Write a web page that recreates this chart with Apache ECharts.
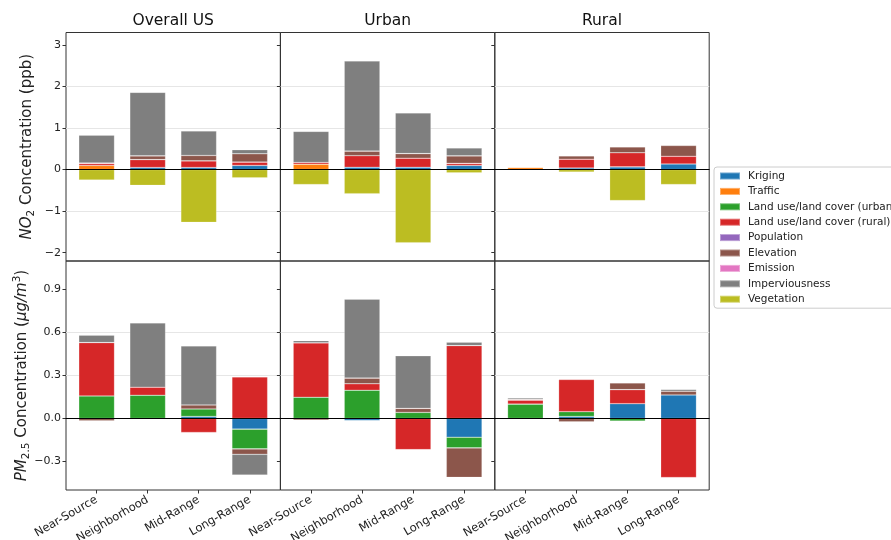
<!DOCTYPE html>
<html>
<head>
<meta charset="utf-8">
<title>Predictor contributions by distance range</title>
<script src="https://cdn.jsdelivr.net/npm/echarts@6/dist/echarts.min.js"></script>
<style>
  html, body { margin: 0; padding: 0; background: #fff; }
  #chart { width: 891px; height: 540px; }
</style>
</head>
<body>
<div id="chart"></div>
<script>
// Distance ranges on the x axis of every panel
const CATEGORIES = ['Near-Source', 'Neighborhood', 'Mid-Range', 'Long-Range'];
// Column titles
const REGIONS = ['Overall US', 'Urban', 'Rural'];
// Predictor groups (stack order, bottom to top)
const PREDICTORS = [
  'Kriging', 'Traffic', 'Land use/land cover (urban)', 'Land use/land cover (rural)',
  'Population', 'Elevation', 'Emission', 'Imperviousness', 'Vegetation'
];

// Y tick values for each row
const NO2_TICKS = [-2, -1, 0, 1, 2, 3];
const PM_TICKS = [-0.3, 0, 0.3, 0.6, 0.9];

// NO2 contributions (ppb); one row per predictor, one column per distance range
const no2OverallUS = [
  [0, 0.05, 0.05, 0.10],
  [0.10, 0, 0, 0],
  [0, 0, 0, 0],
  [0.05, 0.19, 0.16, 0.08],
  [0, 0, 0, 0],
  [0.01, 0.09, 0.13, 0.20],
  [0, 0, 0, 0],
  [0.67, 1.53, 0.59, 0.10],
  [-0.25, -0.38, -1.27, -0.20]
];
const no2Urban = [
  [0, 0.055, 0.055, 0.10],
  [0.13, 0, 0, 0],
  [0, 0, 0, 0],
  [0.04, 0.28, 0.22, 0.05],
  [0, 0, 0, 0],
  [0, 0.11, 0.11, 0.18],
  [0, 0, 0, 0],
  [0.75, 2.17, 0.98, 0.19],
  [-0.36, -0.58, -1.76, -0.08]
];
const no2Rural = [
  [0, 0.04, 0.065, 0.135],
  [0.05, 0, 0, 0],
  [0, 0, 0, 0],
  [0.01, 0.21, 0.34, 0.185],
  [0, 0, 0, 0],
  [0, 0.08, 0.14, 0.26],
  [0, 0, 0, 0],
  [0, 0, 0, 0],
  [0, -0.06, -0.745, -0.36]
];

// PM2.5 contributions (ug/m3)
const pmOverallUS = [
  [0, -0.005, 0.014, -0.075],
  [0, 0, 0, 0],
  [0.157, 0.162, 0.052, -0.138],
  [0.373, 0.056, -0.098, 0.29],
  [0, 0, 0, 0],
  [-0.016, 0, 0.028, -0.0375],
  [0, 0, 0, 0],
  [0.052, 0.45, 0.413, -0.145],
  [0, 0, 0, 0]
];
const pmUrban = [
  [0, -0.014, 0, -0.131],
  [0, 0, 0, 0],
  [0.148, 0.197, 0.042, -0.075],
  [0.38, 0.045, -0.218, 0.509],
  [0, 0, 0, 0],
  [-0.012, 0.04, 0.028, -0.206],
  [0, 0, 0, 0],
  [0.016, 0.551, 0.368, 0.023],
  [0, 0, 0, 0]
];
const pmRural = [
  [0, 0.014, 0.103, 0.164],
  [0, 0, 0, 0],
  [0.10, 0.033, -0.019, 0],
  [0.028, 0.225, 0.098, -0.413],
  [0, 0, 0, 0],
  [0.006, -0.023, 0.047, 0.026],
  [0, 0, 0, 0],
  [0.01, 0, 0, 0.012],
  [0, 0, 0, 0]
];

// ---- styling / layout ----
const COLORS = ['#1f77b4', '#ff7f0e', '#2ca02c', '#d62728', '#9467bd',
                '#8c564b', '#e377c2', '#7f7f7f', '#bcbd22'];
const FONT = 'DejaVu Sans';
const COL_LEFT = [66, 280.4, 494.8];
const COL_W = 214.4;
const ROW_TOP = [32.5, 261];
const ROW_H = [228.5, 229];
const ROW_RANGE = [[-2.2, 3.3], [-0.5, 1.1]];
const ROW_TICKS = [NO2_TICKS, PM_TICKS];
// panels span 4.2 category units: 0.1 unit of extra margin on each side of the bands
const UNIT = COL_W / 4.2;
const BAR_W = UNIT * 0.7;

const PANELS = [
  { row: 0, col: 0, values: no2OverallUS },
  { row: 0, col: 1, values: no2Urban },
  { row: 0, col: 2, values: no2Rural },
  { row: 1, col: 0, values: pmOverallUS },
  { row: 1, col: 1, values: pmUrban },
  { row: 1, col: 2, values: pmRural }
];
const N = PANELS.length;

function tickText(v, row) {
  const sign = v < 0 ? '\u2212' : '';
  const a = Math.abs(v);
  return sign + (row === 0 ? String(Math.round(a)) : a.toFixed(1));
}

const grid = [], xAxis = [], yAxis = [], series = [];

// frame grids (0..5): border, y ticks, gridlines, zero line
PANELS.forEach(p => {
  grid.push({
    left: COL_LEFT[p.col], top: ROW_TOP[p.row],
    width: COL_W, height: ROW_H[p.row],
    show: true, borderColor: '#333', borderWidth: 1,
    backgroundColor: 'transparent',
    containLabel: false, outerBoundsMode: 'none'
  });
});
// data grids (6..11): the category bands, inset by 0.1 unit
PANELS.forEach(p => {
  grid.push({
    left: COL_LEFT[p.col] + UNIT * 0.1, top: ROW_TOP[p.row],
    width: UNIT * 4, height: ROW_H[p.row], show: false,
    containLabel: false, outerBoundsMode: 'none'
  });
});

// x axes 0..5: hidden placeholder axes of the frame grids
PANELS.forEach((p, k) => {
  xAxis.push({
    type: 'value', gridIndex: k, min: 0, max: 1, show: false,
    axisLine: { show: false, onZero: false }
  });
});
// x axes 6..11: category axes of the data grids
PANELS.forEach((p, k) => {
  const bottom = p.row === 1;
  xAxis.push({
    type: 'category', gridIndex: N + k, data: CATEGORIES, boundaryGap: true,
    axisLine: { show: false, onZero: false },
    splitLine: { show: false },
    axisTick: {
      show: bottom, alignWithLabel: true, length: 3.5,
      lineStyle: { color: '#333', width: 1 }
    },
    axisLabel: {
      show: bottom, rotate: 30, margin: 9, interval: 0,
      fontSize: 11.5, fontFamily: FONT, color: '#222'
    }
  });
});
// x axes 12..17: zero reference line of each frame grid
PANELS.forEach((p, k) => {
  xAxis.push({
    type: 'value', gridIndex: k, min: 0, max: 1, position: 'top', z: 10,
    axisLine: { show: true, onZero: true, lineStyle: { color: '#000', width: 1.2 } },
    axisTick: { show: false }, axisLabel: { show: false }, splitLine: { show: false }
  });
});

// y axes 0..5: visible value axes of the frame grids
PANELS.forEach((p, k) => {
  const ticks = ROW_TICKS[p.row];
  yAxis.push({
    type: 'value', gridIndex: k,
    min: ROW_RANGE[p.row][0], max: ROW_RANGE[p.row][1],
    axisLine: { show: false, onZero: false },
    axisTick: {
      show: true, customValues: ticks, length: 3.5,
      lineStyle: { color: '#333', width: 1 }
    },
    axisLabel: {
      show: p.col === 0, customValues: ticks, margin: 5,
      fontSize: 11, fontFamily: FONT, color: '#222',
      formatter: v => tickText(v, p.row)
    },
    splitLine: {
      show: true, showMinLine: false, showMaxLine: false,
      lineStyle: { color: '#e6e6e6', width: 1.2 }
    }
  });
});
// y axes 6..11: same ranges, hidden, for the bars
PANELS.forEach((p, k) => {
  yAxis.push({
    type: 'value', gridIndex: N + k, show: false,
    min: ROW_RANGE[p.row][0], max: ROW_RANGE[p.row][1],
    axisLine: { show: false, onZero: false }, splitLine: { show: false }
  });
});

PANELS.forEach((p, k) => {
  PREDICTORS.forEach((name, i) => {
    series.push({
      type: 'bar', name: name,
      xAxisIndex: N + k, yAxisIndex: N + k, stack: 'panel' + k,
      barWidth: BAR_W,
      itemStyle: {
        color: COLORS[i],
        borderColor: 'rgba(255,255,255,0.35)', borderWidth: 0.6
      },
      emphasis: { disabled: true },
      data: p.values[i].map(v => (v === 0 ? '-' : v))
    });
  });
});

const subStyle = { fontSize: 10.5, fontFamily: FONT, fill: '#222', lineHeight: 10, verticalAlign: 'bottom' };
const supStyle = { fontSize: 10.5, fontFamily: FONT, fill: '#222', lineHeight: 10, verticalAlign: 'top' };
const normStyle = { fontSize: 15, fontFamily: FONT, fill: '#222', lineHeight: 20 };
const italStyle = { fontSize: 15, fontFamily: FONT, fontStyle: 'italic', fill: '#222', lineHeight: 20 };

const graphic = REGIONS.map((r, c) => ({
  type: 'text', x: COL_LEFT[c] + COL_W / 2, y: 21,
  style: { text: r, fontSize: 15.5, fontFamily: FONT, fill: '#111', align: 'center', verticalAlign: 'middle' }
}));
graphic.push({
  type: 'text', x: 27, y: ROW_TOP[0] + ROW_H[0] / 2, rotation: Math.PI / 2,
  style: {
    text: '{i|NO}{s|2}{n| Concentration (ppb)}',
    rich: { i: italStyle, s: subStyle, n: normStyle },
    align: 'center', verticalAlign: 'middle'
  }
});
graphic.push({
  type: 'text', x: 22, y: ROW_TOP[1] + ROW_H[1] / 2, rotation: Math.PI / 2,
  style: {
    text: '{i|PM}{s|2.5}{n| Concentration (}{i|\u03bcg/m}{p|3}{n|)}',
    rich: { i: italStyle, s: subStyle, p: supStyle, n: normStyle },
    align: 'center', verticalAlign: 'middle'
  }
});

const chart = echarts.init(document.getElementById('chart'), null, { renderer: 'canvas' });
chart.setOption({
  animation: false,
  backgroundColor: '#fff',
  textStyle: { fontFamily: FONT },
  grid, xAxis, yAxis, series, graphic,
  legend: {
    data: PREDICTORS,
    orient: 'vertical', left: 714, top: 167,
    padding: [3, 8, 3, 5],
    itemWidth: 20, itemHeight: 7, itemGap: 3.4,
    icon: 'rect', selectedMode: false,
    borderColor: '#cccccc', borderWidth: 1, borderRadius: 3,
    backgroundColor: 'rgba(255,255,255,0.85)',
    textStyle: { fontSize: 10.5, fontFamily: FONT, color: '#222', lineHeight: 12, padding: [0, 0, 0, 3] }
  }
});
</script>
</body>
</html>
